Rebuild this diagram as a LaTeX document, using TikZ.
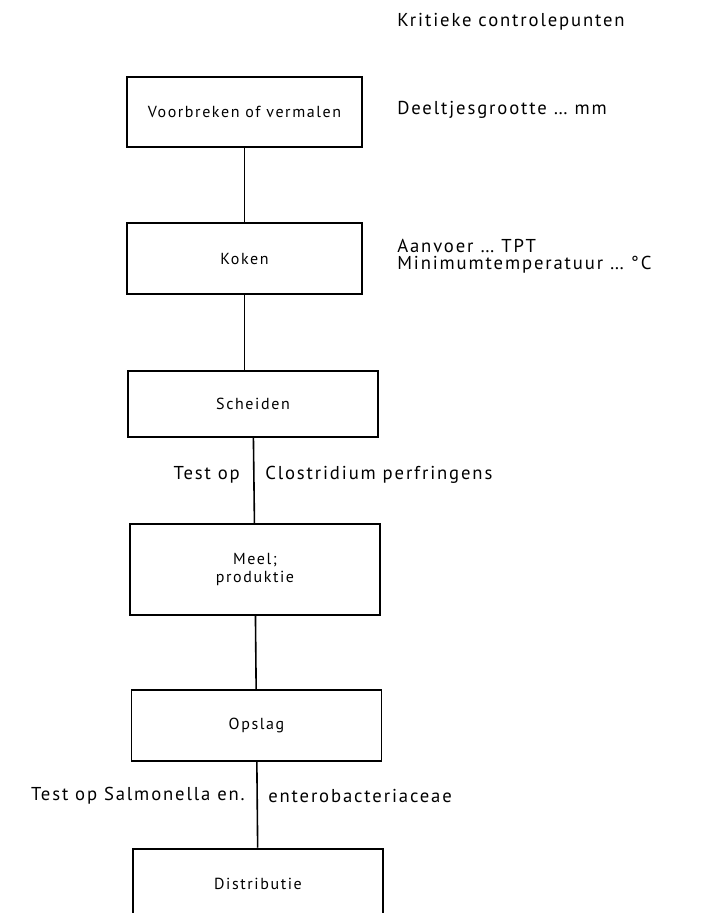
\documentclass[tikz,border=0pt]{standalone}
\usepackage{fontspec}
\setmainfont{PT Sans}[LetterSpace=10]
\usetikzlibrary{positioning}
\begin{document}
\begin{tikzpicture}[x=0.75pt, y=-0.75pt,
    stepbox/.style={draw, line width=1.4pt, minimum width=187.5pt, minimum height=53pt,
                    align=center, font=\fontsize{12}{14}\selectfont},
    note/.style={anchor=west, inner sep=0pt, align=left, font=\fontsize{14}{13}\selectfont},
    link/.style={line width=1.2pt}]
    % Page frame (reference size)
    \useasboundingbox (0,0) rectangle (710,913);
    \clip (0,0) rectangle (710,913);

    % Process steps
    \node[stepbox, minimum width=176pt] (breken) at (244.5,112) {Voorbreken of vermalen};
    \node[stepbox, minimum width=176pt] (koken) at (244.5,258.5) {Koken};
    \node[stepbox, minimum height=49.5pt] (scheiden) at (253,404) {Scheiden};
    \node[stepbox, minimum height=68pt] (meel) at (255,569.5) {Meel;\\produktie};
    \node[stepbox] (opslag) at (256.5,725.5) {Opslag};
    \node[stepbox] (distributie) at (258,884) {Distributie};

    % Connections between the steps
    \draw[link] (breken) -- (koken);
    \draw[link] (koken.south) -- (koken.south |- scheiden.north);
    \draw[link] (scheiden) -- (meel);
    \draw[link] (meel) -- (opslag);
    \draw[link] (opslag) -- (distributie);

    % Critical control points
    \node[note] (kritiek) at (397,22) {Kritieke controlepunten};
    \node[note] (deeltjes) at (397,110) {Deeltjesgrootte \dots\ mm};
    \node[note] (aanvoer) at (397,256) {Aanvoer \dots\ TPT\\Minimumtemperatuur \dots\ °C};
    \node[note, anchor=east] (test1) at (240,475) {Test op};
    \node[note] (clostridium) at (265,475) {Clostridium perfringens};
    \node[note, anchor=east] (test2) at (245,796) {Test op Salmonella en.};
    \node[note] (entero) at (268,796) {enterobacteriaceae};
\end{tikzpicture}
\end{document}
